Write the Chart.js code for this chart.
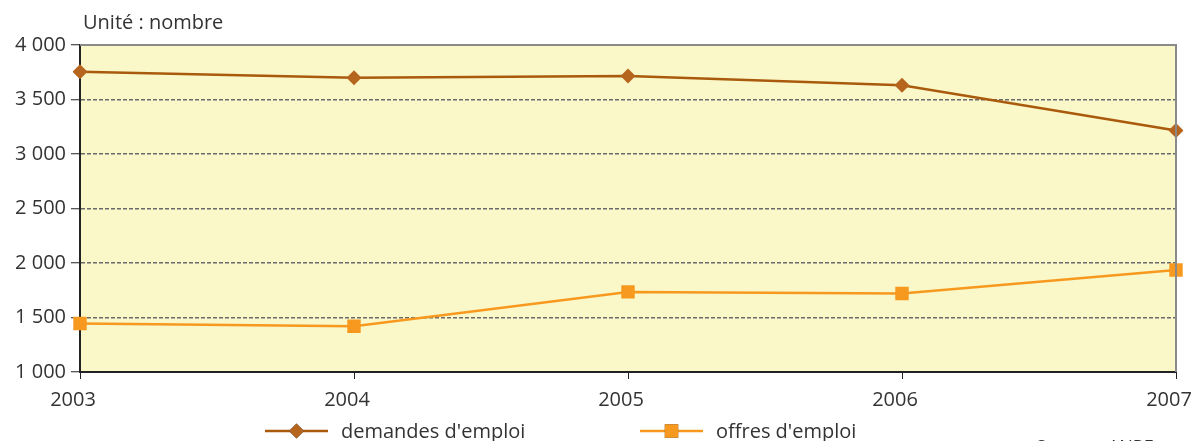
<!DOCTYPE html>
<html>
<head>
<meta charset="utf-8">
<script src="https://cdn.jsdelivr.net/npm/chart.js@4/dist/chart.umd.min.js"></script>
<style>
  html, body { margin: 0; padding: 0; background: #fff; }
  #wrap { width: 1195px; height: 441px; position: relative; }
</style>
</head>
<body>
<div id="wrap"><canvas id="chart" width="1195" height="441"></canvas></div>
<script>
// Data
const years = ['2003', '2004', '2005', '2006', '2007'];
const demandes = [3755, 3700, 3715, 3630, 3215];
const offres = [1445, 1420, 1735, 1720, 1935];
const yTicks = [1000, 1500, 2000, 2500, 3000, 3500, 4000];

const FONT = '"Open Sans", "DejaVu Sans", sans-serif';
const TEXT = '#333';

function fmt(v) {
    return String(v).replace(/\B(?=(\d{3})+(?!\d))/g, ' ');
}

// Background, frame, unit label, legend and source drawn around the plot
const decor = {
    id: 'decor',
    beforeDraw(chart) {
        const { ctx, chartArea: a } = chart;
        ctx.save();
        ctx.fillStyle = '#faf7c8';
        ctx.fillRect(a.left, a.top, a.right - a.left, a.bottom - a.top);
        ctx.restore();
    },
    afterDatasetsDraw(chart) {
        const { ctx, chartArea: a } = chart;
        ctx.save();
        // top and right border
        ctx.strokeStyle = '#8a8a8a';
        ctx.lineWidth = 2;
        ctx.beginPath();
        ctx.moveTo(a.left, a.top);
        ctx.lineTo(a.right, a.top);
        ctx.lineTo(a.right, a.bottom);
        ctx.stroke();

        ctx.fillStyle = TEXT;
        ctx.font = '20px ' + FONT;
        ctx.textBaseline = 'alphabetic';
        ctx.textAlign = 'left';
        ctx.fillText('Unité : nombre', 83, 29);

        // legend
        const items = [
            { x: 265, ds: chart.data.datasets[0] },
            { x: 640, ds: chart.data.datasets[1] }
        ];
        const ly = 431;
        items.forEach(it => {
            const ds = it.ds;
            ctx.strokeStyle = ds.borderColor;
            ctx.lineWidth = ds.borderWidth;
            ctx.beginPath();
            ctx.moveTo(it.x, ly);
            ctx.lineTo(it.x + 63, ly);
            ctx.stroke();
            Chart.helpers.drawPoint(ctx, {
                pointStyle: ds.pointStyle,
                radius: ds.pointRadius,
                borderWidth: 0
            }, it.x + 31.5, ly);
            ctx.fillStyle = ds.pointBackgroundColor;
            ctx.fill();
            ctx.fillStyle = TEXT;
            ctx.fillText(ds.label, it.x + 76, ly + 7);
        });

        ctx.font = '18px ' + FONT;
        ctx.fillText('Source : ANPE', 1036, 453);
        ctx.restore();
    }
};

const ctx = document.getElementById('chart').getContext('2d');
new Chart(ctx, {
    type: 'line',
    data: {
        labels: years,
        datasets: [{
            label: "demandes d'emploi",
            data: demandes,
            borderColor: '#a95a0c',
            backgroundColor: '#b5651d',
            pointBackgroundColor: '#b5651d',
            pointBorderWidth: 0,
            borderWidth: 2.5,
            pointStyle: 'rectRot',
            pointRadius: 7.5,
            tension: 0
        }, {
            label: "offres d'emploi",
            data: offres,
            borderColor: '#f7991f',
            backgroundColor: '#f7991f',
            pointBackgroundColor: '#f7991f',
            pointBorderWidth: 0,
            borderWidth: 2.5,
            pointStyle: 'rect',
            pointRadius: 9.5,
            tension: 0
        }]
    },
    options: {
        responsive: false,
        animation: false,
        events: [],
        layout: { padding: { top: 45, right: 19, left: 0, bottom: 0 } },
        plugins: {
            legend: { display: false },
            tooltip: { enabled: false }
        },
        scales: {
            x: {
                offset: false,
                border: { color: '#222', width: 2 },
                grid: {
                    drawOnChartArea: false,
                    drawTicks: true,
                    tickLength: 7,
                    tickColor: '#222',
                    tickWidth: 1
                },
                ticks: {
                    color: TEXT,
                    font: { family: FONT, size: 20 },
                    padding: 9,
                    labelOffset: -7,
                    maxRotation: 0,
                    autoSkip: false
                },
                afterFit(scale) {
                    scale.height = 69;
                    scale.paddingLeft = 0;
                    scale.paddingRight = 0;
                }
            },
            y: {
                min: 1000,
                max: 4000,
                afterBuildTicks(scale) {
                    scale.ticks = yTicks.map(v => ({ value: v }));
                },
                border: { color: '#222', width: 2, dash: [4, 2] },
                grid: {
                    color: c => (c.tick && (c.tick.value === 1000 || c.tick.value === 4000)) ? 'rgba(0,0,0,0)' : '#6a6a6a',
                    lineWidth: 1.5,
                    drawTicks: true,
                    tickLength: 9,
                    tickColor: '#222',
                    tickWidth: 1,
                    tickBorderDash: []
                },
                ticks: {
                    color: TEXT,
                    font: { family: FONT, size: 20 },
                    padding: 5,
                    callback: v => fmt(v)
                },
                afterFit(scale) {
                    scale.width = 80;
                    scale.paddingTop = 0;
                    scale.paddingBottom = 0;
                }
            }
        }
    },
    plugins: [decor]
});
</script>
</body>
</html>
